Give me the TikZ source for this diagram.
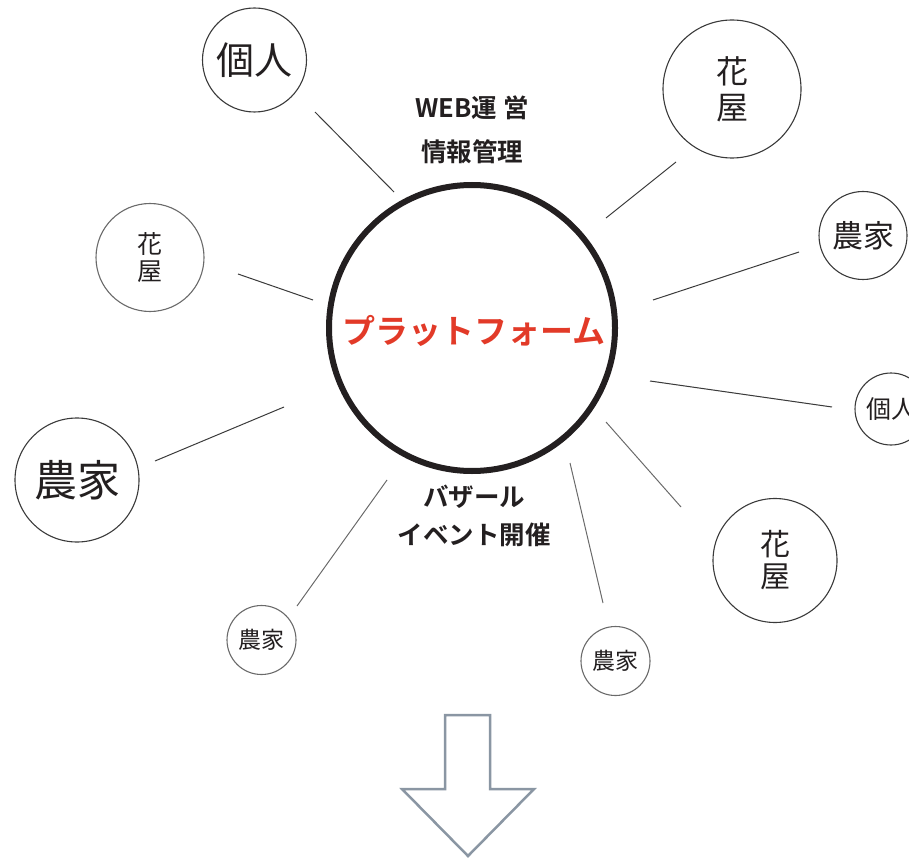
\documentclass[tikz,border=0pt]{standalone}
\usepackage{fontspec}
\newfontfamily\cjk{Noto Sans CJK JP}
\newfontfamily\cjkb{Noto Sans CJK JP Bold}
\definecolor{ink}{HTML}{231F20}
\definecolor{red1}{HTML}{E23A28}
\definecolor{lineD}{HTML}{3A3A3A}
\definecolor{lineL}{HTML}{6A6A6A}
\definecolor{arrowc}{HTML}{8A96A3}
\begin{document}
\begin{tikzpicture}[x=1pt,y=-1pt,
  sat/.style={circle,draw=lineD,line width=1.1pt,inner sep=0pt,align=center,text=ink},
  link/.style={draw=lineD,line width=1pt},
  linkl/.style={draw=lineL,line width=1pt},
  boldlbl/.style={text=ink,align=center}]
\useasboundingbox (0,0) rectangle (909,858);
\clip (0,0) rectangle (909,858);
% main circle
\node[circle,draw=ink,line width=6pt,minimum size=286pt,inner sep=0pt] (main) at (472,328) {};
\node[font=\cjkb\fontsize{33}{33}\selectfont,text=red1] (plat) at (474,331) {プラットフォーム};
\node[boldlbl,font=\cjkb\fontsize{25.5}{44}\selectfont] (top) at (472,130) {WEB運 営\\情報管理};
\node[boldlbl,font=\cjkb\fontsize{25.5}{38}\selectfont] (bot) at (474,515.5) {バザール\\イベント開催};
% satellites
\node[sat,minimum size=104pt,font=\cjk\fontsize{38}{38}\selectfont] (s1) at (254.5,60) {個人};
\node[sat,minimum size=138pt,font=\cjk\fontsize{32}{36}\selectfont] (s2) at (732,89) {花\\屋};
\node[sat,minimum size=88pt,font=\cjk\fontsize{31}{31}\selectfont] (s3) at (863,235.5) {農家};
\node[sat,minimum size=72pt,font=\cjk\fontsize{25}{25}\selectfont] (s4) at (891,409) {個人};
\node[sat,minimum size=124pt,font=\cjk\fontsize{30}{32}\selectfont] (s5) at (775,560.5) {花\\屋};
\node[sat,draw=lineL,minimum size=69pt,font=\cjk\fontsize{23}{23}\selectfont] (s6) at (615.5,661) {農家};
\node[sat,draw=lineL,minimum size=69pt,font=\cjk\fontsize{23}{23}\selectfont] (s7) at (261.5,640) {農家};
\node[sat,minimum size=124pt,font=\cjk\fontsize{43}{43}\selectfont] (s8) at (77,480) {農家};
\node[sat,draw=lineL,minimum size=108pt,font=\cjk\fontsize{25}{27}\selectfont] (s9) at (150,257.5) {花\\屋};
% connector end points
\coordinate (a1) at (315,112); \coordinate (b1) at (394,192);
\coordinate (a2) at (676,162); \coordinate (b2) at (606,218);
\coordinate (a3) at (799,252); \coordinate (b3) at (653,300);
\coordinate (a4) at (832,407); \coordinate (b4) at (650,381);
\coordinate (a5) at (681,507); \coordinate (b5) at (606,422);
\coordinate (a6) at (603,603); \coordinate (b6) at (570,463);
\coordinate (a7) at (297,606); \coordinate (b7) at (387,480);
\coordinate (a8) at (155,461); \coordinate (b8) at (284,407);
\coordinate (a9) at (238,274); \coordinate (b9) at (313,300);
\draw[link] (a1) -- (b1);
\draw[link] (a2) -- (b2);
\draw[link] (a3) -- (b3);
\draw[link] (a4) -- (b4);
\draw[linkl] (a5) -- (b5);
\draw[linkl] (a6) -- (b6);
\draw[linkl] (a7) -- (b7);
\draw[link] (a8) -- (b8);
\draw[link] (a9) -- (b9);
% arrow
\draw[draw=arrowc,line width=2.5pt,fill=white,line join=miter]
  (445,715) -- (490,715) -- (490,789) -- (534,789) -- (468,856) -- (402,789) -- (445,789) -- cycle;
\end{tikzpicture}
\end{document}
